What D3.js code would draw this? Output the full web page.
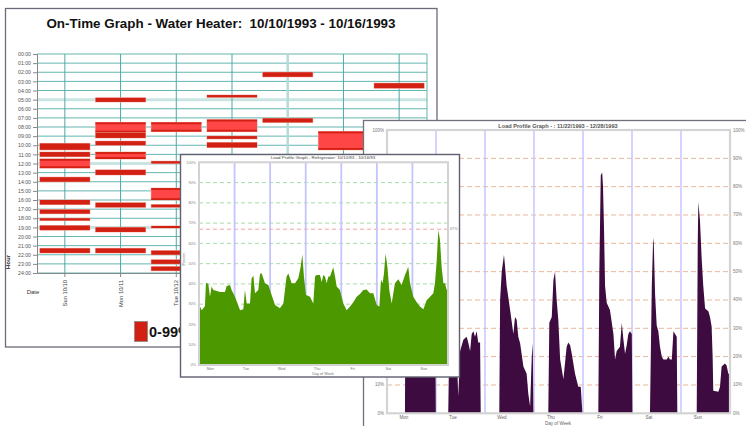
<!DOCTYPE html>
<html><head><meta charset="utf-8">
<script src="https://cdn.jsdelivr.net/npm/d3@7"></script>
<style>
body{margin:0;background:#fff;}
svg{display:block;font-family:"Liberation Sans",Arial,sans-serif;}
</style>
</head><body>
<svg width="746" height="426"></svg>
<script>
// ---------- DATA ----------
const onTimeTitle = "On-Time Graph - Water Heater:  10/10/1993 - 10/16/1993";
const onTimeDays = ["Sun 10/10","Mon 10/11","Tue 10/12","Wed 10/13","Thu 10/14","Fri 10/15","Sat 10/16"];
const hourLabels = ["00:00","01:00","02:00","03:00","04:00","05:00","06:00","07:00","08:00","09:00","10:00","11:00","12:00",
  "13:00","14:00","15:00","16:00","17:00","18:00","19:00","20:00","21:00","22:00","23:00","24:00"];
// on-intervals [start hour, end hour] per day
const sunOn = [[9.8,10.5],[10.75,11.25],[11.5,12.5],[13.5,14.0],[16.0,16.5],[17.05,17.5],[18.0,18.25],[18.8,19.3],[21.3,21.8]];
const monOn = [[4.8,5.25],[7.5,8.6],[8.6,9.2],[9.55,10.0],[10.75,11.5],[12.7,13.25],[16.3,16.8],[19.0,19.5],[21.3,21.8]];
const tueOn = [[7.5,8.5],[11.75,12.0],[14.7,16.0],[16.5,16.8],[18.85,19.05],[21.55,22.0],[22.55,23.0],[23.3,23.75]];
const wedOn = [[4.5,4.75],[7.2,8.5],[9.0,9.3],[9.7,10.25]];
const thuOn = [[2.0,2.5],[7.05,7.5]];
const friOn = [[8.5,10.5]];
const satOn = [[3.2,3.75]];
const legendLabel = "0-99%";

const fridgeTitle = "Load Profile Graph - Refrigerator: 10/10/93 - 10/16/93";
const fridgeDays = ["Mon","Tue","Wed","Thu","Fri","Sat","Sun"];
const fridgeLimit = 67;
// [hour of week, percent]
const fridgeLoad = [[0,30],[1.8,27],[4.0,29],[4.7,40.6],[6.3,40],[7.4,33.7],[8.5,38.7],[9.7,37],[14.2,36],[17.5,36],[18.7,39],
 [20.9,39.5],[22.0,37],[24.3,33.7],[27.7,27],[29.9,27.5],[31.0,37],[32.2,30.4],[34.4,30.4],[35.5,42.8],[36.7,44],[37.8,35.4],
 [40.0,37],[41.2,45],[42.3,45.2],[44.5,40.3],[46.8,39.5],[49.0,34.5],[51.3,29.6],[54.6,28],[56.9,30.4],[59.1,43.6],[60.3,45.2],
 [62.5,40.3],[64.8,40.3],[67.0,42.8],[68.6,48.5],[69.7,54.6],[70.8,43.6],[72.2,34.5],[74.9,33.7],[77.1,30.4],[78.3,43.6],
 [79.4,44.4],[81.6,44.4],[82.8,41],[83.9,44.4],[85.0,43.6],[86.1,40.3],[87.3,43.6],[88.4,43.6],[90.6,48.2],[91.8,43.6],
 [92.9,38.7],[95.1,37],[97.4,30.4],[99.6,27],[101.9,28.8],[104.1,31],[106.4,33.7],[108.6,35],[110.9,37],[113.1,37.3],
 [115.4,35.4],[117.6,35.4],[119.9,29.6],[121.7,28.8],[122.8,42],[123.9,40.3],[124.8,45.2],[125.9,55],[127.1,48.5],[128.4,37],
 [130.0,30.4],[132.2,40.3],[134.5,42.3],[136.7,39.5],[139.0,44.4],[141.2,48.5],[142.4,40.3],[144.6,33.7],[146.9,31],
 [149.1,28.8],[151.4,27.5],[153.6,32],[155.9,33.7],[158.1,35.4],[159.2,40.3],[160.4,51.8],[161.5,66.6],[162.6,61.7],
 [163.7,48.5],[164.9,40.3],[166.0,40.3],[167.1,37],[168.0,38.7]];

const profileTitle = "Load Profile Graph - : 11/22/1993 - 12/28/1993";
const profileDays = ["Mon","Tue","Wed","Thu","Fri","Sat","Sun"];
const profileLoad = [[0,0],[8.8,0],[9.0,35],[10,50],[12,58],[14,52],[16,45],[18,40],[20,35],[22,30],[23.7,22],[23.9,0],
 [30.0,0],[30.5,25],[32.5,28],[34.1,22],[34.9,6],[35.8,22],[37.4,26],[39.0,27],[39.8,25],[40.7,22],[41.5,28],[42.3,29],
 [43.1,27],[43.9,29],[44.7,25],[45.6,25],[45.9,0],
 [55.0,0],[55.4,40],[56.2,50],[57.3,56],[57.8,52],[58.6,45],[60.3,36.5],[61.9,28],[62.7,34],[63.5,33],[64.3,27],[65.2,24.7],
 [66.8,16.5],[68.4,14],[69.2,7],[70.1,2.4],[70.9,20],[71.4,24.7],[71.7,0],
 [79.0,0],[79.5,32],[80.7,34],[81.5,47],[82.3,50],[83.1,40],[83.9,33],[84.8,19],[86.4,12],[88.0,23.5],[88.8,25],[89.7,24],
 [90.5,21],[92.1,14],[93.7,9.4],[94.9,9.4],[95.7,0],
 [103.5,0],[104.0,50],[104.7,84],[105.4,85],[105.8,80],[106.3,65],[106.8,45],[107.6,39],[109.2,36.5],[110.9,28],[111.7,19],
 [112.5,22],[114.1,23.5],[115.0,32],[115.8,26],[116.6,21],[117.4,24],[118.2,28],[119.0,29],[119.9,28],[120.2,0],
 [128.8,0],[129.7,45],[130.3,60],[130.6,62],[131.3,42],[132.1,31],[132.9,29],[133.7,23.5],[134.6,20],[135.4,19],[137.0,19],
 [137.8,20],[138.6,19],[139.5,19],[140.3,29],[141.1,28],[141.9,27],[142.2,0],
 [151.7,0],[152.2,60],[152.5,74.7],[153.3,68],[154.1,55],[154.9,45],[155.8,37],[157.4,36],[158.2,34],[159.0,30.6],[159.5,20],
 [159.8,8],[162.3,7.6],[163.1,9.4],[163.9,16.5],[165.5,17.6],[166.3,17],[167.2,14],[168,14]];
const percentTicks = [0,10,20,30,40,50,60,70,80,90,100];

// ---------- DRAW ----------
const svg = d3.select("svg");
const onByDay = [sunOn,monOn,tueOn,wedOn,thuOn,friOn,satOn];

// ===== Panel 1: On-Time graph =====
const p1 = svg.append("g");
p1.append("rect").attr("x",5.5).attr("y",8.5).attr("width",431.5).attr("height",338.5)
  .attr("fill","#fff").attr("stroke","#6b6b7b").attr("stroke-width",1.3);
p1.append("text").attr("x",221).attr("y",28).attr("text-anchor","middle").style("white-space","pre")
  .attr("font-size",13.4).attr("font-weight","bold").attr("fill","#111").text(onTimeTitle);

const xDay = d3.scaleBand().domain(onTimeDays).range([37,427]);
const yHour = d3.scaleLinear().domain([0,24]).range([54,273]);
const bw = xDay.bandwidth();
const paleHours = [5,12,19];
const paleDays = [4];

p1.append("g").selectAll("line").data(d3.range(25)).join("line")
  .attr("x1",37).attr("x2",427).attr("y1",d=>yHour(d)).attr("y2",d=>yHour(d))
  .attr("stroke",d=>paleHours.includes(d)?"#c9e5e2":"#64b6b0")
  .attr("stroke-width",d=>paleHours.includes(d)?3:1);
p1.append("g").selectAll("line").data(onTimeDays).join("line")
  .attr("x1",d=>xDay(d)+bw/2).attr("x2",d=>xDay(d)+bw/2).attr("y1",54).attr("y2",273)
  .attr("stroke",(d,i)=>paleDays.includes(i)?"#b5dcd8":"#4fa9a3")
  .attr("stroke-width",(d,i)=>paleDays.includes(i)?2.5:1);
p1.append("line").attr("x1",427).attr("x2",427).attr("y1",54).attr("y2",273).attr("stroke","#64b6b0");

const barW = 50;
onByDay.forEach((ints,i)=>{
  const cx = xDay(onTimeDays[i]) + bw/2;
  ints.forEach(([s,e])=>{
    const y0 = yHour(s), h = Math.max(yHour(e)-yHour(s),2);
    const long = (e-s) >= 0.75;
    p1.append("rect").attr("x",cx-barW/2-0.5).attr("y",y0-0.5).attr("width",barW+1).attr("height",h+1).attr("fill","#f3b5ae");
    p1.append("rect").attr("x",cx-barW/2).attr("y",y0).attr("width",barW).attr("height",h)
      .attr("fill",long?"#ff4646":"#d22012");
    if(long){
      p1.append("rect").attr("x",cx-barW/2).attr("y",y0).attr("width",barW).attr("height",1.8).attr("fill","#d22012");
      p1.append("rect").attr("x",cx-barW/2).attr("y",y0+h-1.8).attr("width",barW).attr("height",1.8).attr("fill","#d22012");
    }
  });
});

const ax1 = p1.append("g").attr("transform","translate(37,0)")
  .call(d3.axisLeft(yHour).tickValues(d3.range(25)).tickFormat(i=>hourLabels[i]).tickSize(4).tickPadding(2));
ax1.select(".domain").attr("stroke","#888");
ax1.selectAll(".tick line").attr("stroke","#888");
ax1.selectAll("text").attr("font-size",5.2).attr("fill","#555").attr("font-family","Liberation Sans, Arial");

const ax2 = p1.append("g").attr("transform","translate(0,273)")
  .call(d3.axisBottom(xDay).tickSize(4).tickSizeOuter(0));
ax2.select(".domain").attr("stroke","#888");
ax2.selectAll(".tick line").attr("stroke","#888");
ax2.selectAll("text").attr("font-size",5.8).attr("fill","#444").attr("font-family","Liberation Sans, Arial")
  .attr("transform","rotate(-90)").attr("x",-7).attr("y",0).attr("dy","0.35em").attr("text-anchor","end");

p1.append("text").attr("x",33).attr("y",294).attr("text-anchor","middle").attr("font-size",6).attr("fill","#333").text("Date");
p1.append("text").attr("transform","translate(10,262) rotate(-90)").attr("text-anchor","middle")
  .attr("font-size",6.2).attr("font-weight","bold").attr("fill","#222").text("Hour");
p1.append("rect").attr("x",134.5).attr("y",321.5).attr("width",13).attr("height",20)
  .attr("fill","#d22012").attr("stroke","#888").attr("stroke-width",0.8);
p1.append("text").attr("x",149).attr("y",337).attr("font-size",14.5).attr("font-weight","bold").attr("fill","#111").text(legendLabel);

// ===== Panel 3: purple load profile =====
const p3 = svg.append("g");
p3.append("rect").attr("x",363.5).attr("y",120.5).attr("width",420).attr("height",340)
  .attr("fill","#fff").attr("stroke","#70707e").attr("stroke-width",1.3);
p3.append("text").attr("x",558).attr("y",127.5).attr("text-anchor","middle").attr("font-size",5.6)
  .attr("font-weight","bold").attr("fill","#555").text(profileTitle);
const xP = d3.scaleLinear().domain([0,168]).range([387,730]);
const yP = d3.scaleLinear().domain([0,100]).range([413.3,130]);
p3.append("g").selectAll("line").data(percentTicks.filter(t=>t>0&&t<100)).join("line")
  .attr("x1",387).attr("x2",730).attr("y1",d=>yP(d)).attr("y2",d=>yP(d))
  .attr("stroke","#eab79a").attr("stroke-width",1).attr("stroke-dasharray","5,3");
p3.append("g").selectAll("line").data(d3.range(1,7)).join("line")
  .attr("x1",d=>xP(d*24)).attr("x2",d=>xP(d*24)).attr("y1",130).attr("y2",413.3)
  .attr("stroke","#c6c6ff").attr("stroke-width",1.5);
p3.append("path").datum(profileLoad)
  .attr("d",d3.area().x(d=>xP(d[0])).y0(yP(0)).y1(d=>yP(d[1])))
  .attr("fill","#3d0b3f");
p3.append("rect").attr("x",387).attr("y",130).attr("width",343).attr("height",283.3)
  .attr("fill","none").attr("stroke","#d4d4d4").attr("stroke-width",2.2);
p3.append("g").selectAll("text").data(percentTicks).join("text")
  .attr("x",384).attr("y",d=>yP(d)+1.5).attr("text-anchor","end").attr("font-size",4.5).attr("fill","#777").text(d=>d+"%");
p3.append("g").selectAll("text").data(percentTicks).join("text")
  .attr("x",733).attr("y",d=>yP(d)+1.5).attr("font-size",4.5).attr("fill","#777").text(d=>d+"%");
p3.append("g").selectAll("text").data(profileDays).join("text")
  .attr("x",(d,i)=>xP(i*24+8.3)).attr("y",418.5).attr("text-anchor","middle").attr("font-size",4.6).attr("fill","#666").text(d=>d);
p3.append("text").attr("x",558).attr("y",424.5).attr("text-anchor","middle").attr("font-size",4.6).attr("fill","#666").text("Day of Week");

// ===== Panel 2: green refrigerator profile =====
const p2 = svg.append("g");
p2.append("rect").attr("x",180.5).attr("y",154.5).attr("width",279).attr("height",222.5)
  .attr("fill","#fff").attr("stroke","#5f5f6f").attr("stroke-width",1.4);
p2.append("text").attr("x",323).attr("y",158.8).attr("text-anchor","middle").attr("font-size",4.4)
  .attr("fill","#444").text(fridgeTitle);
const xF = d3.scaleLinear().domain([0,168]).range([199,448]);
const yF = d3.scaleLinear().domain([0,100]).range([365,162.3]);
p2.append("g").selectAll("line").data(percentTicks.filter(t=>t>0&&t<100)).join("line")
  .attr("x1",199).attr("x2",448).attr("y1",d=>yF(d)).attr("y2",d=>yF(d))
  .attr("stroke","#a8dca8").attr("stroke-width",1).attr("stroke-dasharray","4,3");
p2.append("line").attr("x1",199).attr("x2",448).attr("y1",yF(fridgeLimit)).attr("y2",yF(fridgeLimit))
  .attr("stroke","#f5a0a0").attr("stroke-width",1).attr("stroke-dasharray","4,3");
p2.append("g").selectAll("line").data(d3.range(1,7)).join("line")
  .attr("x1",d=>xF(d*24)).attr("x2",d=>xF(d*24)).attr("y1",162.3).attr("y2",365)
  .attr("stroke","#c4c4ff").attr("stroke-width",1.8);
p2.append("path").datum(fridgeLoad)
  .attr("d",d3.area().x(d=>xF(d[0])).y0(yF(0)).y1(d=>yF(d[1])))
  .attr("fill","#4b9800");
p2.append("rect").attr("x",199).attr("y",162.3).attr("width",249).attr("height",202.7)
  .attr("fill","none").attr("stroke","#d2d2d2").attr("stroke-width",2);
p2.append("g").selectAll("text").data(percentTicks).join("text")
  .attr("x",196).attr("y",d=>yF(d)+1.3).attr("text-anchor","end").attr("font-size",3.8).attr("fill","#888").text(d=>d+"%");
p2.append("text").attr("x",450).attr("y",yF(fridgeLimit)+1.3).attr("font-size",3.8).attr("fill","#888").text(fridgeLimit+"%");
p2.append("g").selectAll("text").data(fridgeDays).join("text")
  .attr("x",(d,i)=>xF(i*24+7.7)).attr("y",369.5).attr("text-anchor","middle").attr("font-size",3.8).attr("fill","#777").text(d=>d);
p2.append("text").attr("x",323).attr("y",375).attr("text-anchor","middle").attr("font-size",3.8).attr("fill","#777").text("Day of Week");
p2.append("text").attr("transform","translate(184.5,259) rotate(-90)").attr("text-anchor","middle")
  .attr("font-size",3.8).attr("fill","#777").text("Percent");
</script>
</body></html>
